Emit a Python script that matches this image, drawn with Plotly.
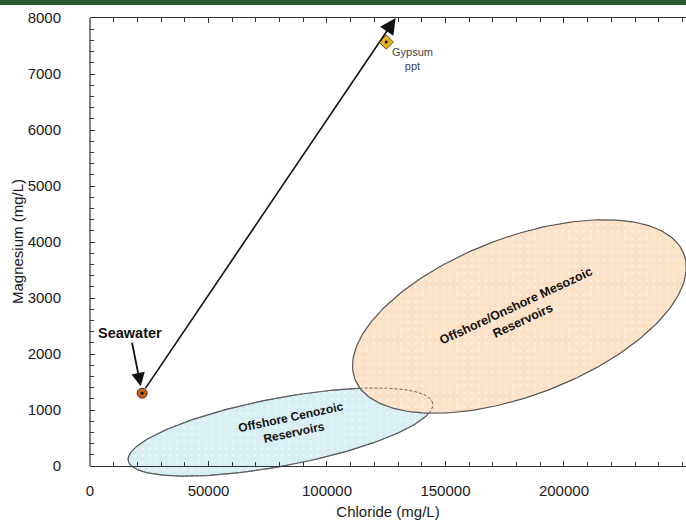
import numpy as np
import plotly.graph_objects as go

# ---- data ----
point_names = ["Seawater", "Gypsum ppt"]
chloride = [22000, 125000]          # mg/L
magnesium = [1300, 7570]            # mg/L
arrow_end = [129000, 8000]          # end of evaporation trend arrow (Cl, Mg)

region_names = ["Offshore Cenozoic<br>Reservoirs", "Offshore/Onshore Mesozoic<br>Reservoirs"]
region_center_cl = [80400, 181200]
region_center_mg = [607, 2670]
region_semi_major_px = [155, 176]
region_semi_minor_px = [34, 79]
region_angle_deg = [10.7, 20.8]
region_label_cl = [85600, 181400]
region_label_mg = [730, 2730]
region_label_angle = [-12, -25]
region_fill = ["#d7eef3", "#fde2c8"]

x_range = [0, 251500]
y_range = [-250, 8000]
x_major = [0, 50000, 100000, 150000, 200000]
y_major = [0, 1000, 2000, 3000, 4000, 5000, 6000, 7000, 8000]
x_minor = list(range(10000, 251000, 10000))
y_minor = list(range(200, 8000, 200))

W, H = 686, 527
ML, MR, MT, MB = 90, 0, 18, 47
plot_w = W - ML - MR
plot_h = H - MT - MB
px_per_x = plot_w / (x_range[1] - x_range[0])
px_per_y = plot_h / (y_range[1] - y_range[0])

fig = go.Figure()

def ellipse(i):
    t = np.linspace(0, 2 * np.pi, 241)
    th = np.radians(region_angle_deg[i])
    a, b = region_semi_major_px[i], region_semi_minor_px[i]
    dx = a * np.cos(th) * np.cos(t) - b * np.sin(th) * np.sin(t)
    dy = a * np.sin(th) * np.cos(t) + b * np.cos(th) * np.sin(t)
    return region_center_cl[i] + dx / px_per_x, region_center_mg[i] + dy / px_per_y

for i in range(2):
    ex, ey = ellipse(i)
    fig.add_trace(go.Scatter(
        x=ex, y=ey, mode="lines", fill="toself",
        fillcolor=region_fill[i],
        fillpattern=dict(shape=".", bgcolor=region_fill[i], fgcolor="white",
                         fgopacity=0.45, size=7, solidity=0.12),
        line=dict(color="#555555", width=1.2), hoverinfo="skip", showlegend=False))

# dashed outline of the Cenozoic field seen through the Mesozoic field
ex, ey = ellipse(0)
fig.add_trace(go.Scatter(x=ex, y=ey, mode="lines",
                         line=dict(color="#666666", width=1, dash="3px,2px"),
                         hoverinfo="skip", showlegend=False))

# points
fig.add_trace(go.Scatter(
    x=[chloride[0]], y=[magnesium[0]], mode="markers",
    marker=dict(symbol="circle", size=10, color="#c8601e",
                line=dict(color="#5a2a10", width=1)),
    showlegend=False, hoverinfo="skip"))
fig.add_trace(go.Scatter(
    x=[chloride[1]], y=[magnesium[1]], mode="markers",
    marker=dict(symbol="diamond", size=11, color="#e6b31e",
                line=dict(color="#6a4a10", width=1)),
    showlegend=False, hoverinfo="skip"))
fig.add_trace(go.Scatter(
    x=chloride, y=magnesium, mode="markers",
    marker=dict(symbol="circle", size=3, color="#111111"),
    showlegend=False, hoverinfo="skip"))

# invisible trace to activate the top (mirror) axis
fig.add_trace(go.Scatter(x=[x_range[0]], y=[y_range[1]], xaxis="x2", yaxis="y",
                         mode="markers", marker=dict(opacity=0),
                         showlegend=False, hoverinfo="skip"))

font_family = "Liberation Sans, Arial, sans-serif"

annotations = [
    # evaporation trend arrow
    dict(x=arrow_end[0], y=arrow_end[1], ax=chloride[0], ay=magnesium[0],
         axref="x", ayref="y", xref="x", yref="y", text="",
         showarrow=True, arrowhead=2, arrowsize=2.0, arrowwidth=1.6,
         arrowcolor="#111111", standoff=0, startstandoff=4),
    # seawater label
    dict(x=chloride[0], y=magnesium[0], xref="x", yref="y",
         text="<b>Seawater</b>", ax=-12, ay=-60,
         font=dict(size=14.5, color="#111111", family=font_family),
         showarrow=True, arrowhead=2, arrowsize=1.5, arrowwidth=1.8,
         arrowcolor="#111111", standoff=7),
    # gypsum label
    dict(x=chloride[1], y=magnesium[1], xref="x", yref="y",
         text="Gypsum<br>ppt", showarrow=False, xanchor="left", yanchor="top",
         xshift=4, yshift=-2, align="center",
         font=dict(size=11, color="#444444", family=font_family)),
    # y-axis title
    dict(x=-(ML - 17) / plot_w, y=(4000 - y_range[0]) / (y_range[1] - y_range[0]),
         xref="paper", yref="paper", text="Magnesium (mg/L)", textangle=-90,
         xanchor="center", yanchor="middle",
         showarrow=False, font=dict(size=15, color="#1a1a1a", family=font_family)),
]
for i in range(2):
    annotations.append(dict(
        x=region_label_cl[i], y=region_label_mg[i], xref="x", yref="y",
        text="<b>" + region_names[i] + "</b>", showarrow=False,
        textangle=region_label_angle[i], align="center",
        font=dict(size=12 if i == 0 else 12.5, color="#111111", family=font_family)))

shapes = [
    # top green band
    dict(type="rect", xref="paper", yref="paper",
         x0=-ML / plot_w, x1=1.0, y0=1 + (MT - 5) / plot_h, y1=1 + MT / plot_h,
         fillcolor="#2b5a2e", line=dict(width=0), layer="above"),
    # left axis line (from 0 up to top)
    dict(type="line", xref="paper", yref="y", x0=0, x1=0,
         y0=0, y1=y_range[1], line=dict(color="#333333", width=1.2), layer="above"),
]

fig.update_layout(
    width=W, height=H,
    margin=dict(l=ML, r=MR, t=MT, b=MB),
    paper_bgcolor="white", plot_bgcolor="white",
    font=dict(family=font_family, size=15, color="#1a1a1a"),
    annotations=annotations, shapes=shapes,
    showlegend=False,
    xaxis2=dict(overlaying="x", side="top", anchor="y", range=x_range,
                tickmode="array", tickvals=x_major, showticklabels=False,
                ticks="inside", ticklen=5, tickcolor="#333333",
                minor=dict(tickmode="array", tickvals=x_minor, ticks="inside",
                           ticklen=4, tickcolor="#333333"),
                showline=True, linecolor="#333333", linewidth=1.2,
                showgrid=False, zeroline=False),
)

fig.layout.xaxis.update(
    range=x_range, anchor="free", position=(0 - y_range[0]) / (y_range[1] - y_range[0]),
    tickmode="array", tickvals=x_major, ticktext=[str(v) for v in x_major],
    ticks="inside", ticklen=5, tickcolor="#333333",
    minor=dict(tickmode="array", tickvals=x_minor, ticks="inside", ticklen=4, tickcolor="#333333"),
    showline=True, linecolor="#333333", linewidth=1.2,
    showgrid=False, zeroline=False, ticklabelstandoff=11,
    tickfont=dict(size=15, color="#1a1a1a"),
    title=dict(text="Chloride (mg/L)", font=dict(size=15, color="#1a1a1a"), standoff=8),
)
fig.layout.yaxis.update(
    range=y_range,
    tickmode="array", tickvals=y_major, ticktext=[str(v) for v in y_major],
    ticks="inside", ticklen=5, tickcolor="#333333",
    minor=dict(tickmode="array", tickvals=y_minor, ticks="inside", ticklen=4, tickcolor="#333333"),
    showline=False, showgrid=False, zeroline=False, ticklabelstandoff=28,
    tickfont=dict(size=15, color="#1a1a1a"),
)

fig.write_html("out.html")
